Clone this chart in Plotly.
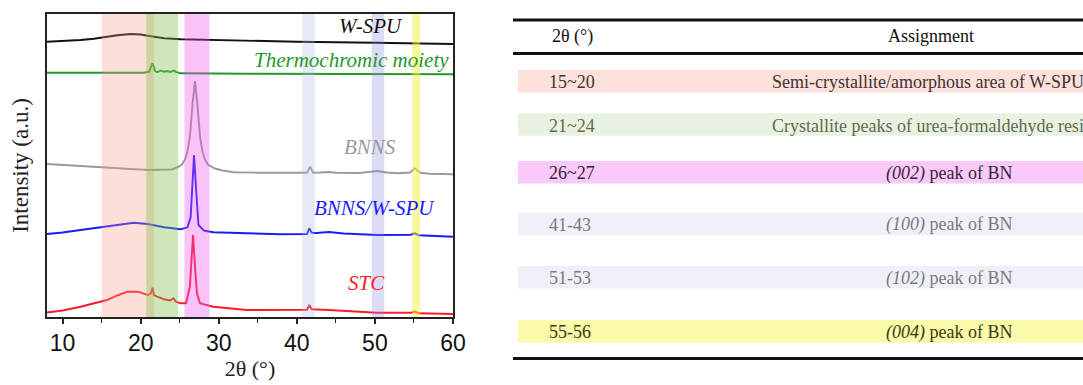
import plotly.graph_objects as go

W, H = 1083, 385

# ---------------- XRD data (2θ in degrees, intensity in arbitrary units, offset stacked) -------------
tt_wspu = [8, 10, 12.3, 14, 15.3, 17, 18.7, 20, 20.9, 22, 23, 25.1, 28.5, 33.6, 40, 50, 60]
int_wspu = [275.3, 275.8, 277, 278.2, 279.7, 281.8, 283, 282.5, 281.3, 280, 278.7, 277.7, 277, 276, 275.3, 274.3, 273]

tt_thermo = [8, 20.4, 21.1, 21.3, 21.5, 21.7, 21.8, 22.1, 22.6, 23.0, 23.4, 23.8, 24.1, 24.3, 24.5,
             24.7, 25.1, 33.6, 45, 60]
int_thermo = [244.3, 244.3, 245.3, 250, 253.7, 250, 246.3, 244.8, 246.3, 245.3, 246, 245, 245.5, 246.5, 245,
              244.3, 243.7, 243.2, 243, 242.7]

tt_bnns = [8, 11, 14.5, 18, 20.9, 24, 24.9, 25.3, 25.7, 26.0, 26.3, 26.65, 26.95, 27.25, 27.6, 27.9, 28.2,
           28.6, 29.1, 29.5, 30.5, 31.9, 35, 38, 41.3, 41.7, 42.1, 43, 44.1, 45, 48, 50.3, 51.5, 53, 54.5,
           55.1, 55.8, 57, 60]
int_bnns = [153, 151.5, 149.7, 148.3, 147, 147.5, 150.3, 152.5, 158, 166, 180, 213.7, 236, 213.7, 180, 166, 158,
            152.5, 150, 148.5, 146.5, 144.7, 144.3, 144, 144.3, 150.3, 144.3, 144.5, 145, 144.2, 144, 146, 144.5,
            143.7, 144.5, 148.7, 144.2, 143.3, 142.7]

tt_comp = [8, 10, 12.3, 14.5, 16.6, 19.1, 20.9, 23, 25.1, 26.0, 26.4, 26.6, 26.83, 27.1, 27.4, 28.1, 29.3,
           33.6, 37.9, 41.3, 41.6, 41.9, 42.5, 44.1, 46, 50.3, 53, 54.6, 55.1, 55.6, 57, 60]
int_comp = [83, 84.5, 87, 89.5, 92, 94.3, 93, 89.7, 87.7, 89.7, 100, 137, 162, 127, 92, 86.3, 84.7,
            83.7, 82.7, 83, 88.7, 84.3, 84, 85, 83.5, 82, 82, 82.3, 83.7, 81.8, 81.3, 80.3]

tt_stc = [8, 10, 12.3, 14, 15.7, 17, 18.3, 19.6, 20.9, 21.3, 21.5, 21.7, 22.2, 23, 23.8, 24.2, 24.5, 25.1,
          25.8, 26.3, 26.5, 26.7, 26.9, 27.2, 27.6, 29.3, 33.6, 37.9, 41.3, 41.6, 41.9, 44.1, 46, 50.3, 54.6,
          55.1, 55.6, 60]
int_stc = [4.5, 6.5, 10.3, 13.5, 17, 21.5, 25.3, 25.3, 22, 23.7, 29.3, 22, 20, 17.7, 16.5, 18.7, 15.3, 13.7,
           13.7, 30, 60, 82, 57, 23.7, 13.7, 10.3, 7, 7, 7.3, 12, 7.7, 7, 6, 4.3, 4.2, 5.7, 3.7, 3]

series_names = ["W-SPU", "Thermochromic moiety", "BNNS", "BNNS/W-SPU", "STC"]
series_x = [tt_wspu, tt_thermo, tt_bnns, tt_comp, tt_stc]
series_y = [int_wspu, int_thermo, int_bnns, int_comp, int_stc]
series_colors = ["#111111", "#23992a", "#9a9a9a", "#1a1aff", "#ff1a2a"]
# label anchor (2θ, intensity)
label_x = [49.5, 46.95, 49.4, 49.9, 48.9]
label_y = [291, 257, 170, 109, 34]

# shaded 2θ bands
band_lo = [15, 20.7, 25.6, 40.7, 49.6, 54.8]
band_hi = [21.7, 24.8, 28.8, 42.3, 51.2, 55.8]
band_colors = ["rgba(245,150,128,0.30)", "rgba(130,190,75,0.38)", "rgba(238,80,238,0.34)",
               "rgba(172,185,225,0.30)", "rgba(140,140,225,0.30)", "rgba(242,242,60,0.50)"]

# ---------------- table data -------------
tbl_header = ["2θ (°)", "Assignment"]
tbl_ranges = ["15~20", "21~24", "26~27", "41-43", "51-53", "55-56"]
tbl_assign = ["Semi-crystallite/amorphous area of W-SPU",
              "Crystallite peaks of urea-formaldehyde resin",
              "<i>(002)</i> peak of BN",
              "<i>(100)</i> peak of BN",
              "<i>(102)</i> peak of BN",
              "<i>(004)</i> peak of BN"]
tbl_fill = ["#fde0da", "#e9f2e0", "#f9c9f9", "#f0f0f8", "#efeff8", "#fafaa8"]
tbl_text = ["#3e3434", "#5e6b52", "#3a1e3a", "#7a7a7a", "#7a7a7a", "#3a3a14"]

# layout positions (pixels) for the table
row_top = [70, 113.3, 161, 212.7, 266, 320]
row_h = 22.5
assign_left = [770, 770, 884, 884, 884, 884]


def px(x):
    return x / W


def py(y):
    return 1 - y / H


fig = go.Figure()
for name, xs, ys, c in zip(series_names, series_x, series_y, series_colors):
    fig.add_trace(go.Scatter(x=xs, y=ys, mode="lines", name=name,
                             line=dict(color=c, width=1.9), showlegend=False, hoverinfo="skip"))

shapes = []
for lo, hi, c in zip(band_lo, band_hi, band_colors):
    shapes.append(dict(type="rect", xref="x", yref="y domain", x0=lo, x1=hi, y0=0, y1=1,
                       fillcolor=c, line=dict(width=0), layer="above"))

annotations = []
for name, lx, ly, c in zip(series_names, label_x, label_y, series_colors):
    annotations.append(dict(x=lx, y=ly, xref="x", yref="y", text="<i>%s</i>" % name, showarrow=False,
                            font=dict(family="Liberation Serif", size=21, color=c),
                            xanchor="center", yanchor="middle"))

# table rules
for yy in [20, 53.5, 358.5]:
    shapes.append(dict(type="line", xref="paper", yref="paper", x0=px(513), x1=px(1083), y0=py(yy), y1=py(yy),
                       line=dict(color="#111111", width=2.8)))

# table header
annotations.append(dict(x=px(550), y=py(36), xref="paper", yref="paper", text=tbl_header[0], showarrow=False,
                        xanchor="left", yanchor="middle",
                        font=dict(family="Liberation Serif", size=18, color="#111111")))
annotations.append(dict(x=px(930.5), y=py(36), xref="paper", yref="paper", text=tbl_header[1], showarrow=False,
                        xanchor="center", yanchor="middle",
                        font=dict(family="Liberation Serif", size=18, color="#111111")))

for i in range(len(tbl_ranges)):
    t = row_top[i]
    shapes.append(dict(type="rect", xref="paper", yref="paper", x0=px(518), x1=px(1083),
                       y0=py(t + row_h), y1=py(t), fillcolor=tbl_fill[i], line=dict(width=0), layer="below"))
    cy = t + row_h / 2 + 1
    annotations.append(dict(x=px(547.5), y=py(cy), xref="paper", yref="paper", text=tbl_ranges[i],
                            showarrow=False, xanchor="left", yanchor="middle",
                            font=dict(family="Liberation Serif", size=18, color=tbl_text[i])))
    annotations.append(dict(x=px(assign_left[i]), y=py(cy), xref="paper", yref="paper", text=tbl_assign[i],
                            showarrow=False, xanchor="left", yanchor="middle",
                            font=dict(family="Liberation Serif", size=18, color=tbl_text[i])))

axis_col = "#222222"
fig.update_layout(
    width=W, height=H, margin=dict(l=0, r=0, t=0, b=0, pad=0, autoexpand=False),
    plot_bgcolor="white", paper_bgcolor="white", showlegend=False,
    shapes=shapes, annotations=annotations,
    xaxis=dict(domain=[47 / W, 453 / W], range=[8, 60], tick0=0, dtick=10, ticks="outside", ticklen=5,
               tickwidth=1.5, tickcolor=axis_col, showline=True, linecolor=axis_col, linewidth=1.5,
               mirror=True, showgrid=False, zeroline=False, automargin=False,
               tickfont=dict(family="Liberation Sans", size=23, color="#111111"),
               minor=dict(tick0=0, dtick=5, ticks="outside", ticklen=4, tickwidth=1.2, tickcolor=axis_col,
                          showgrid=False),
               title=dict(text="2θ (°)", standoff=5,
                          font=dict(family="Liberation Serif", size=22, color=axis_col))),
    yaxis=dict(domain=[68 / H, 371 / H], range=[0, 303], showticklabels=False, ticks="",
               showline=True, linecolor=axis_col, linewidth=1.5, mirror=True, showgrid=False,
               zeroline=False, automargin=False,
               title=dict(text="Intensity (a.u.)", standoff=10,
                          font=dict(family="Liberation Serif", size=23, color=axis_col))),
)

fig.write_html("out.html", config={"displayModeBar": False},
               post_script="document.documentElement.style.margin='0';document.documentElement.style.overflow='hidden';"
                           "document.body.style.margin='0';document.body.style.overflow='hidden';")
